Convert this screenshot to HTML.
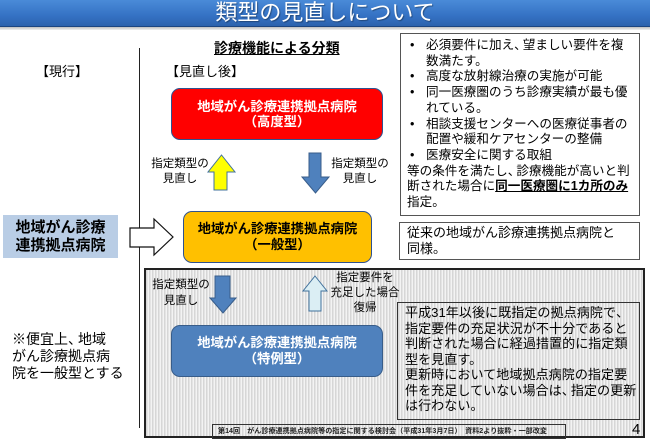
<!DOCTYPE html>
<html><head><meta charset="utf-8">
<style>
*{margin:0;padding:0;box-sizing:border-box}
html,body{width:650px;height:444px;overflow:hidden;background:#fff}
body{position:relative;font-family:"Liberation Sans","Noto Sans CJK JP",sans-serif;color:#000}
.a{position:absolute;white-space:nowrap}
.title{left:0;top:0;width:650px;height:27px;background:linear-gradient(#4a8bd8,#3572c4 60%,#2c62ad);border-bottom:1px solid #1c4580;color:#fff;font-size:22px;line-height:26px;text-align:center;text-shadow:1px 1px 1px rgba(0,0,0,.35)}
.gl{left:0;top:27px;width:650px;height:3px;background:linear-gradient(#bdbdbd,#f0f0f0)}
.box{position:absolute;display:flex;align-items:center;justify-content:center;text-align:center;font-weight:bold;white-space:nowrap}
.stripe{background:repeating-linear-gradient(90deg,#d6d6d6 0,#d6d6d6 1.5px,#f3f3f3 1.5px,#f3f3f3 3px)}
.lbl{position:absolute;text-align:center;font-size:11.5px;line-height:15px;white-space:nowrap}
.tr{position:absolute;left:400px;top:33px;width:240px;height:183px;border:1.5px solid #555;background:#fff}
.ln{position:absolute;font-size:12.6px;line-height:15.7px;height:15.7px;white-space:nowrap}
.c{letter-spacing:-4px}
</style></head><body>

<div class="a title">類型の見直しについて</div>
<div class="a gl"></div>

<!-- vertical line -->
<div class="a" style="left:139px;top:48px;width:1px;height:380px;background:#222"></div>

<div class="a" style="left:36px;top:63px;font-size:13px;line-height:18px">【現行】</div>
<div class="a" style="left:214px;top:39px;font-size:14px;line-height:18px;font-weight:bold;text-decoration:underline">診療機能による分類</div>
<div class="a" style="left:166px;top:63px;font-size:13px;line-height:18px">【見直し後】</div>

<!-- gray striped box -->
<div class="a stripe" style="left:144px;top:268px;width:501px;height:170px;border:2px solid #222"></div>

<!-- boxes -->
<div class="box" style="left:171px;top:88px;width:212px;height:52px;border-radius:9px;background:#ff0000;border:1.5px solid #2f528f;color:#fff;font-size:13.3px;line-height:15px">地域がん診療連携拠点病院<br>（高度型）</div>
<div class="box" style="left:183px;top:211px;width:189px;height:52px;border-radius:9px;background:#ffc000;border:1.5px solid #2f528f;color:#000;font-size:13.3px;line-height:16px">地域がん診療連携拠点病院<br>（一般型）</div>
<div class="box" style="left:171px;top:325px;width:212px;height:52px;border-radius:9px;background:#4f81bd;border:1.5px solid #385d8a;color:#fff;font-size:13.3px;line-height:16px">地域がん診療連携拠点病院<br>（特例型）</div>
<div class="box" style="left:3px;top:215px;width:115px;height:43px;background:#b9cde5;font-size:15px;line-height:18px">地域がん診療<br>連携拠点病院</div>

<!-- arrows -->
<svg class="a" style="left:0;top:0" width="650" height="444" viewBox="0 0 650 444">
  <polygon points="221.5,155 235,172 227,172 227,190 214,190 214,172 208,172" fill="#ffff00" stroke="#41719c" stroke-width="1"/>
  <polygon points="309,153 321,153 321,177 329,177 315.5,193 302,177 309,177" fill="#4f81bd" stroke="#385d8a" stroke-width="1"/>
  <polygon points="130,228 154,228 154,219 173,237 154,255 154,247 130,247" fill="#fff" stroke="#111" stroke-width="1.2"/>
  <polygon points="215,276 230,276 230,298 236,298 223,313 210,298 215,298" fill="#4f81bd" stroke="#385d8a" stroke-width="1"/>
  <polygon points="315,276 327,291 321,291 321,311 309,311 309,291 303,291" fill="#dbeef4" stroke="#41719c" stroke-width="1"/>
</svg>

<!-- labels -->
<div class="lbl" style="left:140px;top:156.5px;width:80px">指定類型の<br>見直し</div>
<div class="lbl" style="left:320px;top:156.5px;width:80px">指定類型の<br>見直し</div>
<div class="lbl" style="left:141px;top:277px;width:80px;line-height:16px">指定類型の<br>見直し</div>
<div class="lbl" style="left:325px;top:270.5px;width:80px">指定要件を<br>充足した場合<br>復帰</div>

<!-- top right box -->
<div class="tr"></div>
<div class="ln" style="left:410px;top:38px">•</div><div class="ln" style="left:426px;top:38px">必須要件に加え<span class="c">、</span>望ましい要件を複</div>
<div class="ln" style="left:426px;top:53.7px">数満たす。</div>
<div class="ln" style="left:410px;top:69.4px">•</div><div class="ln" style="left:426px;top:69.4px">高度な放射線治療の実施が可能</div>
<div class="ln" style="left:410px;top:85.1px">•</div><div class="ln" style="left:426px;top:85.1px">同一医療圏のうち診療実績が最も優</div>
<div class="ln" style="left:426px;top:100.8px">れている。</div>
<div class="ln" style="left:410px;top:116.5px">•</div><div class="ln" style="left:426px;top:116.5px">相談支援センターへの医療従事者の</div>
<div class="ln" style="left:426px;top:132.2px">配置や緩和ケアセンターの整備</div>
<div class="ln" style="left:410px;top:147.9px">•</div><div class="ln" style="left:426px;top:147.9px">医療安全に関する取組</div>
<div class="ln" style="left:407px;top:163.6px">等の条件を満たし<span class="c">、</span>診療機能が高いと判</div>
<div class="ln" style="left:407px;top:179.3px">断された場合に<b style="text-decoration:underline">同一医療圏に1カ所のみ</b></div>
<div class="ln" style="left:407px;top:195px">指定。</div>

<!-- second right box -->
<div class="a" style="left:399px;top:222px;width:241px;height:38px;border:1.5px solid #555;background:#fff"></div>
<div class="ln" style="left:407px;top:225px;font-size:13px;line-height:15.5px;height:auto">従来の地域がん診療連携拠点病院と<br>同様。</div>

<!-- gray inner text box -->
<div class="a" style="left:397px;top:302px;width:243px;height:118px;border:1px solid #333"></div>
<div class="a" style="left:405px;top:305px;font-size:13.1px;line-height:15.5px">平成31年以後に既指定の拠点病院で<span class="c">、</span><br>指定要件の充足状況が不十分であると<br>判断された場合に経過措置的に指定類<br>型を見直す。<br>更新時において地域拠点病院の指定要<br>件を充足していない場合は<span class="c">、</span>指定の更新<br>は行わない。</div>

<!-- left note -->
<div class="a" style="left:12px;top:330.5px;font-size:14px;line-height:17px">※便宜上<span class="c">、</span>地域<br>がん診療拠点病<br>院を一般型とする</div>

<!-- citation -->
<div class="a" style="left:212px;top:424px;width:354px;height:15px;border:1px solid #333"></div>
<div class="a" style="left:218px;top:426px;font-size:7.1px;line-height:11px;font-weight:bold;color:#222">第14回　がん診療連携拠点病院等の指定に関する検討会（平成31年3月7日）　資料2より抜粋・一部改変</div>
<div class="a" style="left:632px;top:421px;font-size:15px;line-height:18px">4</div>

</body></html>
